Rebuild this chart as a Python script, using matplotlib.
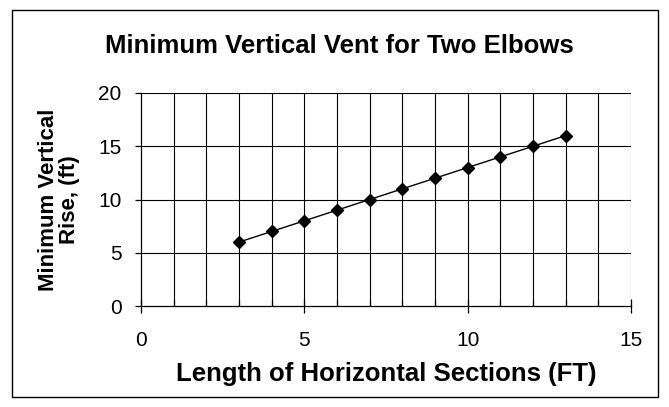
import numpy as np
import matplotlib.pyplot as plt
from matplotlib.patches import Rectangle

plt.rcParams['font.family'] = ['Liberation Sans', 'DejaVu Sans']

# horizontal length vs minimum vertical rise
length_ft = [3, 4, 5, 6, 7, 8, 9, 10, 11, 12, 13]
rise_ft = [6, 7, 8, 9, 10, 11, 12, 13, 14, 15, 16]

fig = plt.figure(figsize=(6.69, 4.07), dpi=100)
ax = fig.add_axes([141/669, 1 - 306/407, 490/669, 213/407])

ax.plot(length_ft, rise_ft, color='black', lw=1.0, marker='D', ms=6,
        mfc='black', mec='black', zorder=3)

ax.set_xlim(0, 15)
ax.set_ylim(0, 20)
ax.set_xticks([0, 5, 10, 15])
ax.set_xticks(np.arange(0, 16, 1), minor=True)
ax.set_yticks([0, 5, 10, 15, 20])

# grid on every integer along x, every 5 along y
for xv in range(1, 16):
    ax.axvline(xv, color='black', lw=0.8, zorder=1)
for yv in [5, 10, 15, 20]:
    ax.axhline(yv, color='black', lw=0.8, zorder=1)

for s in ['top', 'right']:
    ax.spines[s].set_visible(False)
ax.spines['left'].set_linewidth(0.9)
ax.spines['bottom'].set_linewidth(0.9)

ax.tick_params(axis='x', which='major', direction='inout', length=10, width=0.9,
               labelsize=15, pad=13)
ax.tick_params(axis='x', which='minor', direction='in', length=4, width=0.9)
ax.tick_params(axis='y', which='major', direction='out', length=4, width=0.9,
               labelsize=15, pad=10)

fig.text(339/669, 1 - 53/407, 'Minimum Vertical Vent for Two Elbows',
         fontsize=18.5, fontweight='bold', ha='center', va='baseline')
ax.set_xlabel('Length of Horizontal Sections (FT)', fontsize=18.5,
              fontweight='bold', labelpad=9)
ax.set_ylabel('Minimum Vertical\nRise, (ft)', fontsize=16,
              fontweight='bold', labelpad=13, linespacing=1.0)

# outer chart border
fig.patches.append(Rectangle((12/669, 1 - 397/407), 646/669, 387/407,
                             transform=fig.transFigure, fill=False,
                             edgecolor='black', lw=1.0))

fig.savefig('out.png', dpi=100)
